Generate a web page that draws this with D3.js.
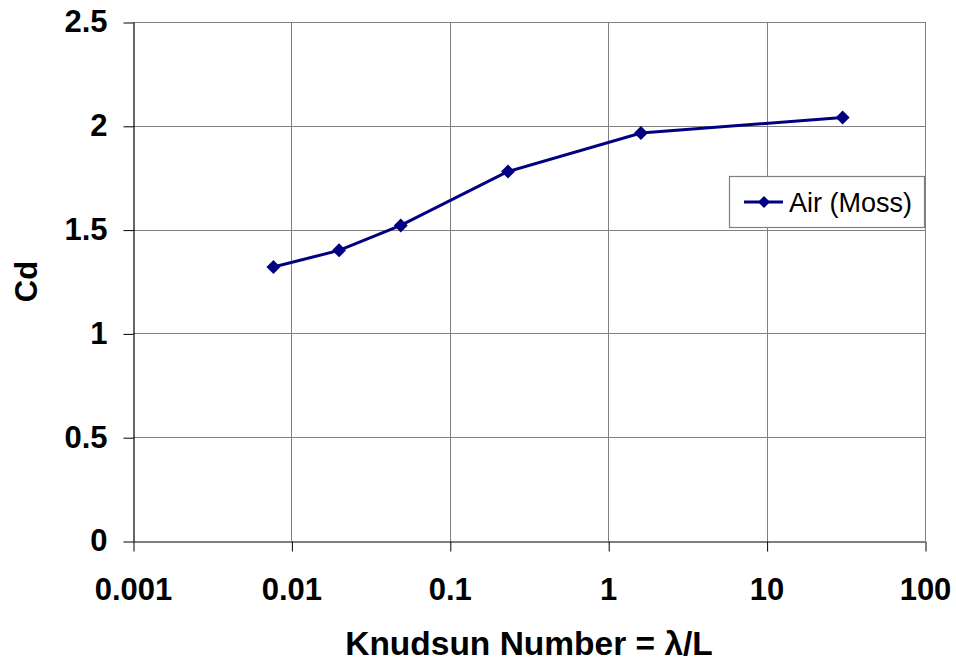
<!DOCTYPE html>
<html>
<head>
<meta charset="utf-8">
<script src="https://cdn.jsdelivr.net/npm/d3@7"></script>
<style>
  html, body { margin: 0; padding: 0; background: #fff; }
  svg { display: block; font-family: Arial, "Liberation Sans", sans-serif; }
</style>
</head>
<body>
<svg id="chart" width="956" height="662"></svg>
<script>
// Data
const knudsen = [0.0077, 0.020, 0.049, 0.233, 1.61, 30.2];
const cdValues = [1.32, 1.40, 1.52, 1.78, 1.965, 2.04];
const xTicks = [0.001, 0.01, 0.1, 1, 10, 100];
const xTickLabels = ["0.001", "0.01", "0.1", "1", "10", "100"];
const yTicks = [0, 0.5, 1, 1.5, 2, 2.5];
const yTickLabels = ["0", "0.5", "1", "1.5", "2", "2.5"];
const seriesName = "Air (Moss)";
const xTitle = "Knudsun Number = \u03BB/L";
const yTitle = "Cd";

const svg = d3.select("#chart");
const pLeft = 133, pRight = 925, pTop = 22, pBottom = 541;

const x = d3.scaleLog().domain([0.001, 100]).range([pLeft, pRight]);
const y = d3.scaleLinear().domain([0, 2.5]).range([pBottom, pTop]);

const grid = "#808080";

// gridlines
svg.append("g").selectAll("line.h").data(yTicks.slice(1)).join("line")
  .attr("x1", pLeft).attr("x2", pRight)
  .attr("y1", d => Math.round(y(d)) + 0.5).attr("y2", d => Math.round(y(d)) + 0.5)
  .attr("stroke", grid).attr("stroke-width", 1);
svg.append("g").selectAll("line.v").data(xTicks.slice(1)).join("line")
  .attr("y1", pTop).attr("y2", pBottom)
  .attr("x1", d => Math.round(x(d)) + 0.5).attr("x2", d => Math.round(x(d)) + 0.5)
  .attr("stroke", grid).attr("stroke-width", 1);

// axes
const xAxis = d3.axisBottom(x).tickValues(xTicks)
  .tickFormat((d, i) => xTickLabels[i]).tickSize(10).tickSizeOuter(0).tickPadding(26);
const gx = svg.append("g").attr("transform", `translate(0,${pBottom + 0.5})`).call(xAxis);
gx.select(".domain").attr("stroke", "#000").attr("stroke-width", 1.2);
gx.selectAll(".tick line").attr("stroke", "#000").attr("transform", "translate(0.5,0)");
gx.selectAll(".tick text").attr("font-size", 31).attr("font-weight", "bold")
  .attr("font-family", "Arial, 'Liberation Sans', sans-serif").attr("fill", "#000");

const yAxis = d3.axisLeft(y).tickValues(yTicks)
  .tickFormat((d, i) => yTickLabels[i]).tickSize(10).tickSizeOuter(0).tickPadding(16);
const gy = svg.append("g").attr("transform", `translate(${pLeft + 0.5},0)`).call(yAxis);
gy.select(".domain").attr("stroke", "#000").attr("stroke-width", 1.2);
gy.selectAll(".tick line").attr("stroke", "#000").attr("transform", "translate(0,0.5)");
gy.selectAll(".tick text").attr("font-size", 31).attr("font-weight", "bold")
  .attr("font-family", "Arial, 'Liberation Sans', sans-serif").attr("fill", "#000");

// axis titles
svg.append("text").attr("x", (pLeft + pRight) / 2).attr("y", 655)
  .attr("text-anchor", "middle").attr("font-size", 33.5).attr("font-weight", "bold")
  .text(xTitle);
svg.append("text").attr("transform", `translate(37,${(pTop + pBottom) / 2}) rotate(-90)`)
  .attr("text-anchor", "middle").attr("font-size", 31).attr("font-weight", "bold")
  .text(yTitle);

// series
const color = "#000080";
const pts = knudsen.map((k, i) => [k, cdValues[i]]);
svg.append("path").datum(pts)
  .attr("d", d3.line().x(d => x(d[0])).y(d => y(d[1])))
  .attr("fill", "none").attr("stroke", color).attr("stroke-width", 3);
const diamond = r => `M0,${-r}L${r},0L0,${r}L${-r},0Z`;
svg.append("g").selectAll("path").data(pts).join("path")
  .attr("d", diamond(7))
  .attr("transform", d => `translate(${x(d[0])},${y(d[1])})`)
  .attr("fill", color);

// legend
const lg = svg.append("g");
lg.append("rect").attr("x", 729.5).attr("y", 176.5).attr("width", 195).attr("height", 51)
  .attr("fill", "#fff").attr("stroke", "#808080").attr("stroke-width", 1.2);
lg.append("line").attr("x1", 744).attr("x2", 783).attr("y1", 202).attr("y2", 202)
  .attr("stroke", color).attr("stroke-width", 3);
lg.append("path").attr("d", diamond(6)).attr("transform", "translate(764,202)").attr("fill", color);
lg.append("text").attr("x", 789).attr("y", 212).attr("font-size", 27)
  .attr("fill", "#000").text(seriesName);
</script>
</body>
</html>
